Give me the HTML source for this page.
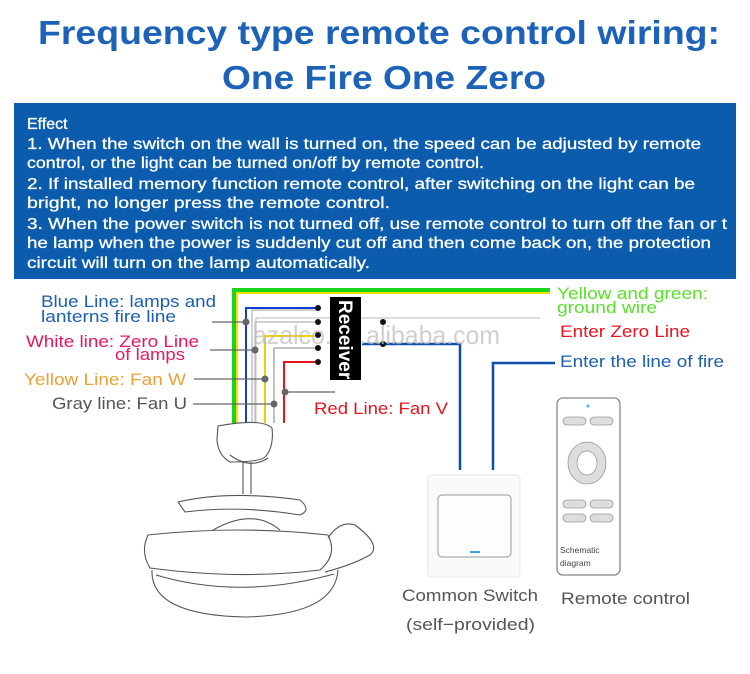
<!DOCTYPE html>
<html><head><meta charset="utf-8"><style>
body{margin:0;background:#fff;width:750px;height:669px;overflow:hidden;font-family:"Liberation Sans",sans-serif}
</style></head><body>
<svg width="750" height="669" viewBox="0 0 750 669" xmlns="http://www.w3.org/2000/svg" font-family="Liberation Sans, sans-serif">
<rect width="750" height="669" fill="#fff"/>
<text x="38" y="44" textLength="682" lengthAdjust="spacingAndGlyphs" font-size="33" font-weight="bold" fill="#1b62b8">Frequency type remote control wiring:</text>
<text x="222" y="89" textLength="324" lengthAdjust="spacingAndGlyphs" font-size="33" font-weight="bold" fill="#1b62b8">One Fire One Zero</text>
<rect x="14" y="103" width="722" height="176" fill="#0b5cad"/>
<g fill="#fff" font-size="16" stroke="#fff" stroke-width="0.3" lengthAdjust="spacingAndGlyphs">
<text x="27" y="129">Effect</text>
<text x="27" y="149" textLength="674" lengthAdjust="spacingAndGlyphs">1. When the switch on the wall is turned on, the speed can be adjusted by remote</text>
<text x="27" y="168" textLength="457" lengthAdjust="spacingAndGlyphs">control, or the light can be turned on/off by remote control.</text>
<text x="27" y="189" textLength="668" lengthAdjust="spacingAndGlyphs">2. If installed memory function remote control, after switching on the light can be</text>
<text x="27" y="208" textLength="363" lengthAdjust="spacingAndGlyphs">bright, no longer press the remote control.</text>
<text x="27" y="229" textLength="700" lengthAdjust="spacingAndGlyphs">3. When the power switch is not turned off, use remote control to turn off the fan or t</text>
<text x="27" y="248" textLength="684" lengthAdjust="spacingAndGlyphs">he lamp when the power is suddenly cut off and then come back on, the protection</text>
<text x="27" y="268" textLength="343" lengthAdjust="spacingAndGlyphs">circuit will turn on the lamp automatically.</text>
</g>
<g fill="none">
<path d="M234 423 V290 H550" stroke="#1bd41b" stroke-width="4"/>
<path d="M237 423 V293 H550" stroke="#f2e200" stroke-width="2"/>
<path d="M252 423 V310 H318" stroke="#b5b5b5" stroke-width="1.2"/>
<path d="M256 423 V318 H540" stroke="#c8c8c8" stroke-width="1.2"/>
<path d="M246 423 V308 H318" stroke="#1040d0" stroke-width="2"/>
<path d="M255 423 V322 H318" stroke="#c0c0c0" stroke-width="1.5"/>
<path d="M265 423 V336 H318" stroke="#f2d000" stroke-width="2"/>
<path d="M274 423 V348 H318" stroke="#aaa" stroke-width="1.5"/>
<path d="M284 423 V362 H318" stroke="#e8141e" stroke-width="2"/>
<path d="M362 344 H460 V470" stroke="#0b4fa8" stroke-width="2.5"/>
<path d="M555 363 H493 V470" stroke="#0b4fa8" stroke-width="2.5"/>
<path d="M212 322 H246 M210 350 H255 M194 379 H265 M193 404 H274 M285 392 H335" stroke="#666" stroke-width="1.2"/>
</g>
<g fill="#111">
<circle cx="318" cy="308" r="3"/><circle cx="318" cy="322" r="3"/><circle cx="318" cy="335" r="3"/><circle cx="318" cy="348" r="3"/><circle cx="318" cy="362" r="3"/>
<circle cx="383" cy="322" r="3"/><circle cx="383" cy="344" r="3"/>
</g>
<g fill="#666"><circle cx="246" cy="322" r="3.5"/><circle cx="255" cy="350" r="3.5"/><circle cx="265" cy="379" r="3.5"/><circle cx="274" cy="404" r="3.5"/><circle cx="285" cy="392" r="3.5"/></g>
<text x="253" y="344" textLength="247" lengthAdjust="spacingAndGlyphs" font-size="26" fill="#bbb" opacity="0.7">azalco.en.alibaba.com</text>
<rect x="330" y="297" width="31" height="83" fill="#000"/>
<text transform="translate(339,300) rotate(90)" font-size="19" font-weight="bold" fill="#fff">Receiver</text>
<g font-size="17" lengthAdjust="spacingAndGlyphs">
<text x="41" y="307" textLength="175" lengthAdjust="spacingAndGlyphs" fill="#1b5fb0">Blue Line: lamps and</text>
<text x="41" y="322" textLength="135" lengthAdjust="spacingAndGlyphs" fill="#1b5fb0">lanterns fire line</text>
<text x="26" y="347" textLength="173" lengthAdjust="spacingAndGlyphs" fill="#e8175d">White line: Zero Line</text>
<text x="115" y="360" textLength="70" lengthAdjust="spacingAndGlyphs" fill="#e8175d">of lamps</text>
<text x="24" y="385" textLength="162" lengthAdjust="spacingAndGlyphs" fill="#eba035">Yellow Line: Fan W</text>
<text x="52" y="409" textLength="135" lengthAdjust="spacingAndGlyphs" fill="#555">Gray line: Fan U</text>
<text x="314" y="414" textLength="134" lengthAdjust="spacingAndGlyphs" fill="#e8141e">Red Line: Fan V</text>
<text x="557" y="299" textLength="151" lengthAdjust="spacingAndGlyphs" fill="#5ae02a">Yellow and green:</text>
<text x="557" y="313" textLength="100" lengthAdjust="spacingAndGlyphs" fill="#5ae02a">ground wire</text>
<text x="560" y="337" textLength="130" lengthAdjust="spacingAndGlyphs" fill="#e8141e">Enter Zero Line</text>
<text x="560" y="367" textLength="164" lengthAdjust="spacingAndGlyphs" fill="#1b5fb0">Enter the line of fire</text>
<text x="402" y="601" textLength="136" lengthAdjust="spacingAndGlyphs" fill="#555">Common Switch</text>
<text x="406" y="630" textLength="129" lengthAdjust="spacingAndGlyphs" fill="#555">(self−provided)</text>
<text x="561" y="604" textLength="129" lengthAdjust="spacingAndGlyphs" fill="#555">Remote control</text>
</g>
<g fill="none" stroke="#555" stroke-width="1.1">
<path d="M218 426 Q262 418 272 428 Q274 446 266 456 Q262 462 230 462 Q218 455 217 440 Z" fill="#fff"/>
<path d="M230 455 Q250 470 268 458"/>
<path d="M243 462 V494 M251 462 V494"/>
<path d="M178 502 Q230 490 300 500 Q312 510 300 515 Q240 505 185 512 Z" fill="#fff"/>
<path d="M205 535 Q250 505 280 530"/>
<path d="M148 535 Q240 525 328 535 Q338 555 320 570 Q240 580 150 568 Q140 552 148 535 Z" fill="#fff"/>
<path d="M328 538 Q340 520 355 525 Q382 545 370 555 Q352 565 325 572"/>
<path d="M152 570 Q150 615 245 617 Q335 615 338 570"/>
<path d="M156 575 Q240 600 334 574"/>
</g>
<rect x="428" y="475" width="92" height="102" rx="4" fill="#fafafa" stroke="#e6e6e6"/>
<rect x="438" y="495" width="73" height="62" rx="4" fill="#fdfdfd" stroke="#999"/>
<rect x="470" y="551" width="10" height="2" fill="#3aa0e8"/>
<rect x="557" y="398" width="63" height="177" rx="6" fill="#fff" stroke="#888" stroke-width="1.3"/>
<circle cx="588" cy="406" r="1.5" fill="#2ac0e0"/>
<g fill="#ddd" stroke="#999" stroke-width="0.8">
<rect x="563" y="417" width="23" height="8" rx="4"/><rect x="590" y="417" width="23" height="8" rx="4"/>
<rect x="563" y="500" width="23" height="8" rx="4"/><rect x="590" y="500" width="23" height="8" rx="4"/>
<rect x="563" y="514" width="23" height="8" rx="4"/><rect x="590" y="514" width="23" height="8" rx="4"/>
<ellipse cx="587" cy="463" rx="19" ry="21"/>
</g>
<ellipse cx="587" cy="463" rx="10" ry="12" fill="#fff" stroke="#999" stroke-width="0.8"/>
<text x="560" y="553" font-size="8.5" fill="#444">Schematic</text>
<text x="560" y="566" font-size="8.5" fill="#444">diagram</text>
</svg>
</body></html>
